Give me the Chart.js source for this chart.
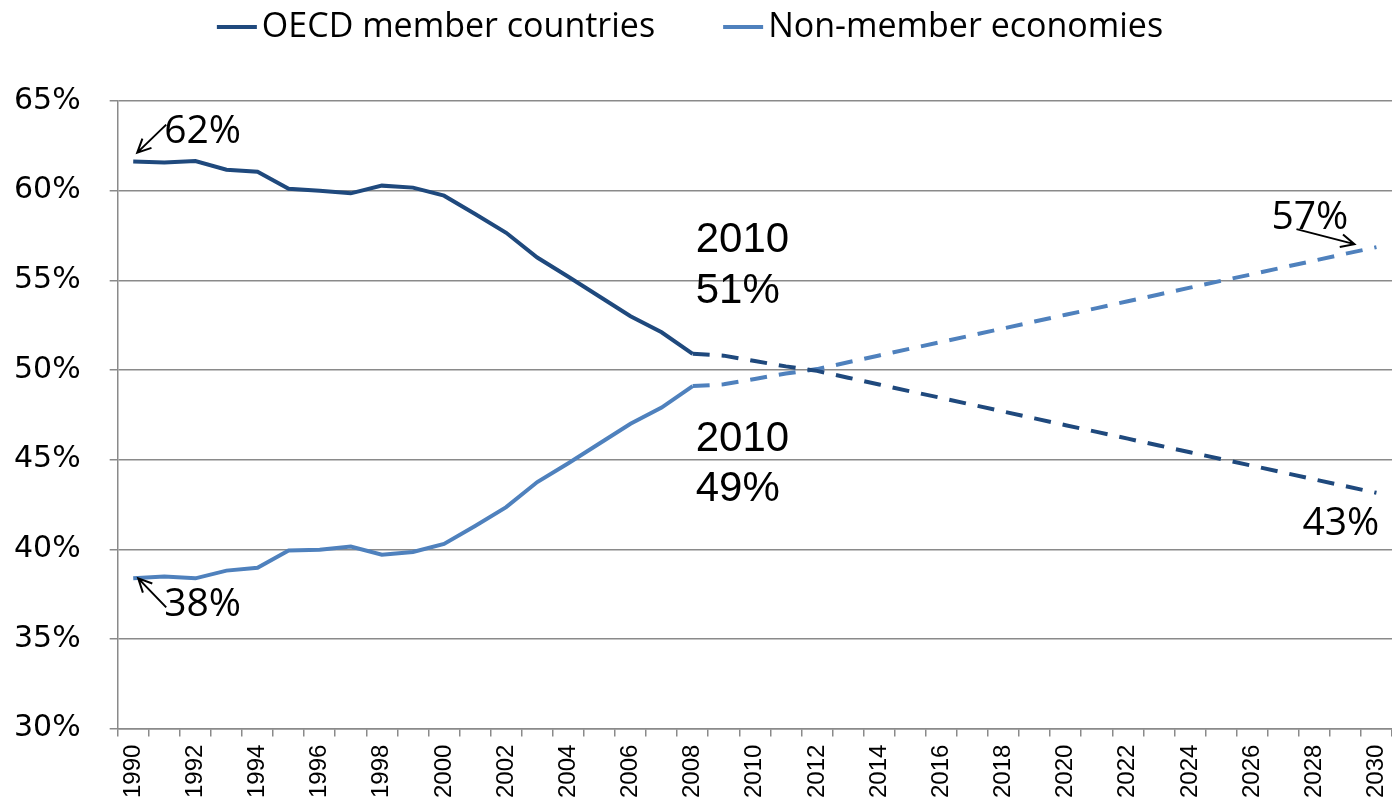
<!DOCTYPE html>
<html>
<head>
<meta charset="utf-8">
<script src="https://cdn.jsdelivr.net/npm/chart.js@4.4.0/dist/chart.umd.min.js"></script>
<style>
  html, body { margin: 0; padding: 0; background: #fff; overflow: hidden; }
</style>
</head>
<body>
<canvas id="shareChart" width="1392" height="797"></canvas>
<script>
const years = ['1990', '1991', '1992', '1993', '1994', '1995', '1996', '1997', '1998', '1999',
    '2000', '2001', '2002', '2003', '2004', '2005', '2006', '2007', '2008', '2009',
    '2010', '2011', '2012', '2013', '2014', '2015', '2016', '2017', '2018', '2019',
    '2020', '2021', '2022', '2023', '2024', '2025', '2026', '2027', '2028', '2029', '2030'];

// 1990-2008, share of world GDP (%)
const oecdHistory = [61.62, 61.57, 61.65, 61.17, 61.06, 60.1, 60.0, 59.85, 60.28, 60.17,
    59.72, 58.7, 57.65, 56.27, 55.2, 54.1, 53.0, 52.1, 50.9];
const nonMemberHistory = [38.38, 38.48, 38.38, 38.81, 38.97, 39.93, 39.98, 40.15, 39.7, 39.85,
    40.3, 41.3, 42.35, 43.75, 44.8, 45.9, 47.0, 47.9, 49.1];

// 2008-2030 projection
const oecdProjection = [50.9, 50.8, 50.5, 50.2, 49.95, 49.57, 49.19, 48.81, 48.44, 48.06, 47.68, 47.3,
    46.92, 46.55, 46.17, 45.79, 45.41, 45.03, 44.66, 44.28, 43.9, 43.52, 43.15];
const nonMemberProjection = [49.1, 49.2, 49.5, 49.8, 50.05, 50.43, 50.81, 51.19, 51.56, 51.94, 52.32, 52.7,
    53.08, 53.45, 53.83, 54.21, 54.59, 54.97, 55.34, 55.72, 56.1, 56.48, 56.85];

const yTicks = [30, 35, 40, 45, 50, 55, 60, 65];

const OECD_COLOR = '#1f497d';
const NON_COLOR = '#4f81bd';
const GRID = '#8a8a8a';

const histPad = Array(years.length - oecdHistory.length).fill(null);
const projPad = Array(years.length - oecdProjection.length).fill(null);

const topLegend = {
    id: 'topLegend',
    afterDraw(chart) {
        const ctx = chart.ctx;
        const items = chart.data.datasets.filter(d => !d.projection);
        ctx.save();
        ctx.font = '34px "Open Sans"';
        const widths = items.map(d => ctx.measureText(d.label).width);
        const gap = 68;
        const total = widths.reduce((s, w) => s + 45 + w, 0) + gap * (items.length - 1);
        let x = 690 - total / 2;
        const y = 27;
        items.forEach((d, k) => {
            ctx.strokeStyle = d.borderColor;
            ctx.lineWidth = 4;
            ctx.beginPath();
            ctx.moveTo(x, y);
            ctx.lineTo(x + 40, y);
            ctx.stroke();
            ctx.fillStyle = '#000';
            ctx.textBaseline = 'middle';
            ctx.fillText(d.label, x + 45, y);
            x += 45 + widths[k] + gap;
        });
        ctx.restore();
    }
};

function drawArrow(ctx, x1, y1, x2, y2) {
    const ang = Math.atan2(y2 - y1, x2 - x1);
    const head = 15;
    ctx.beginPath();
    ctx.moveTo(x1, y1);
    ctx.lineTo(x2, y2);
    ctx.moveTo(x2 - head * Math.cos(ang - 0.45), y2 - head * Math.sin(ang - 0.45));
    ctx.lineTo(x2, y2);
    ctx.lineTo(x2 - head * Math.cos(ang + 0.45), y2 - head * Math.sin(ang + 0.45));
    ctx.stroke();
}

const notes = {
    id: 'notes',
    afterDatasetsDraw(chart) {
        const ctx = chart.ctx;
        const xs = chart.scales.x, ys = chart.scales.y;
        const pt = (year, v) => ({ x: xs.getPixelForValue(years.indexOf(year)), y: ys.getPixelForValue(v) });
        const oStart = pt('1990', oecdHistory[0]);
        const nStart = pt('1990', nonMemberHistory[0]);
        const oEnd = pt('2030', oecdProjection[oecdProjection.length - 1]);
        const nEnd = pt('2030', nonMemberProjection[nonMemberProjection.length - 1]);
        const o08 = pt('2008', oecdHistory[oecdHistory.length - 1]);
        const n08 = pt('2008', nonMemberHistory[nonMemberHistory.length - 1]);

        ctx.save();
        ctx.fillStyle = '#000';
        ctx.strokeStyle = '#000';
        ctx.lineWidth = 2;
        ctx.textBaseline = 'alphabetic';
        ctx.textAlign = 'left';

        ctx.font = '39px "Open Sans"';
        ctx.fillText('62%', oStart.x + 31, oStart.y - 19);
        drawArrow(ctx, oStart.x + 33, oStart.y - 37, oStart.x + 4, oStart.y - 9);
        ctx.fillText('38%', nStart.x + 31, nStart.y + 38);
        drawArrow(ctx, nStart.x + 33, nStart.y + 29, nStart.x + 5, nStart.y);
        ctx.fillText('57%', nEnd.x - 105, nEnd.y - 18);
        drawArrow(ctx, nEnd.x - 80, nEnd.y - 18, nEnd.x - 22, nEnd.y - 3);
        ctx.fillText('43%', oEnd.x - 74, oEnd.y + 42);

        ctx.font = '42px "Liberation Sans"';
        ctx.fillText('2010', o08.x + 3, o08.y - 102);
        ctx.fillText('51%', o08.x + 3, o08.y - 51);
        ctx.fillText('2010', n08.x + 3, n08.y + 65);
        ctx.fillText('49%', n08.x + 3, n08.y + 115);
        ctx.restore();
    }
};

const ctx = document.getElementById('shareChart').getContext('2d');
const shareChart = new Chart(ctx, {
    type: 'line',
    data: {
        labels: years,
        datasets: [
            { label: 'OECD member countries', data: oecdHistory.concat(histPad), borderColor: OECD_COLOR, borderWidth: 4, pointRadius: 0, tension: 0 },
            { label: 'OECD projection', projection: true, data: projPad.concat(oecdProjection), borderColor: OECD_COLOR, borderWidth: 4, borderDash: [17, 12], pointRadius: 0, tension: 0 },
            { label: 'Non-member economies', data: nonMemberHistory.concat(histPad), borderColor: NON_COLOR, borderWidth: 4, pointRadius: 0, tension: 0 },
            { label: 'Non-member projection', projection: true, data: projPad.concat(nonMemberProjection), borderColor: NON_COLOR, borderWidth: 4, borderDash: [17, 12], pointRadius: 0, tension: 0 }
        ]
    },
    options: {
        responsive: false,
        animation: false,
        devicePixelRatio: 1,
        layout: { padding: { top: 101, left: -15, right: -6, bottom: -9 } },
        plugins: { legend: { display: false }, tooltip: { enabled: false } },
        scales: {
            x: {
                offset: true,
                afterFit: axis => { axis.paddingRight = 0; },
                grid: { drawOnChartArea: false, offset: true, tickLength: 8, color: GRID, lineWidth: 1.5 },
                border: { color: GRID, width: 1.5 },
                ticks: {
                    autoSkip: false, minRotation: 90, maxRotation: 90, padding: 8, color: '#000',
                    font: { family: 'Liberation Sans', size: 24 },
                    callback: (v, i) => (i % 2 === 0 ? years[i] : '')
                }
            },
            y: {
                min: yTicks[0],
                max: yTicks[yTicks.length - 1],
                afterBuildTicks: axis => { axis.ticks = yTicks.map(v => ({ value: v })); },
                grid: { color: GRID, lineWidth: 1.5, tickLength: 8 },
                border: { color: GRID, width: 1.5 },
                ticks: { padding: 29, color: '#000', font: { family: 'DejaVu Sans', size: 30 }, callback: v => v + '%' }
            }
        }
    },
    plugins: [topLegend, notes]
});
</script>
</body>
</html>
